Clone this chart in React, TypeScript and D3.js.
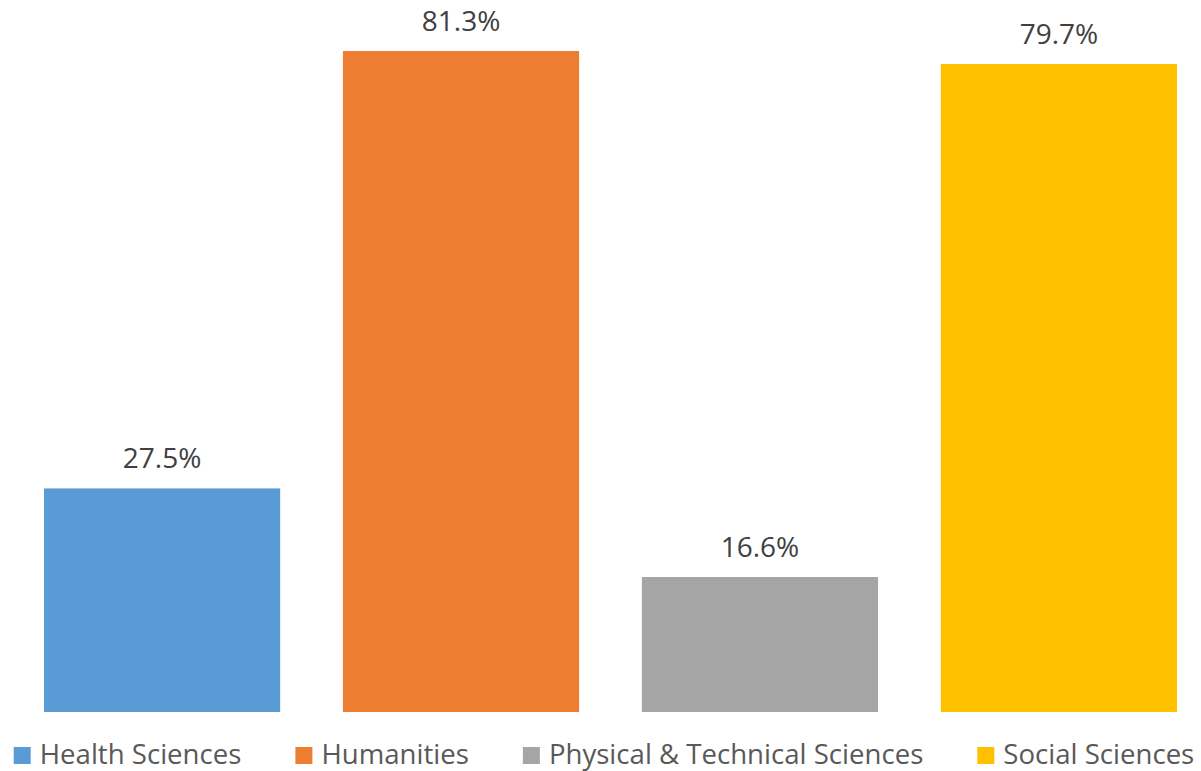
import React, { useEffect, useRef } from "react";
import * as d3 from "d3";

const categories = ["Health Sciences", "Humanities", "Physical & Technical Sciences", "Social Sciences"];
const values = [27.5, 81.3, 16.6, 79.7];
const colors = ["#5B9BD5", "#ED7D31", "#A5A5A5", "#FFC000"];

const W = 1201;
const H = 771;
const FONT = "'Open Sans', 'Segoe UI', sans-serif";

export default function App() {
  const ref = useRef<SVGSVGElement>(null);

  useEffect(() => {
    const svg = d3.select(ref.current);
    svg.selectAll("*").remove();

    const x = d3.scaleBand<string>().domain(categories).range([12.6, 1208.4]).paddingInner(0.21).paddingOuter(0.105);
    const y = d3.scaleLinear().domain([0, 100]).range([712, 712 - 813]);

    const g = svg.append("g");
    g.selectAll("rect.bar")
      .data(categories)
      .join("rect")
      .attr("class", "bar")
      .attr("x", (d) => x(d)!)
      .attr("width", x.bandwidth())
      .attr("y", (_, i) => y(values[i]))
      .attr("height", (_, i) => y(0) - y(values[i]))
      .attr("fill", (_, i) => colors[i]);

    g.selectAll("text.lbl")
      .data(categories)
      .join("text")
      .attr("class", "lbl")
      .attr("x", (d) => x(d)! + x.bandwidth() / 2)
      .attr("y", (_, i) => y(values[i]) - 20)
      .attr("text-anchor", "middle")
      .attr("font-family", FONT)
      .attr("font-size", 28)
      .attr("fill", "#404040")
      .text((_, i) => values[i].toFixed(1) + "%");

    // legend
    const lg = svg.append("g");
    const items = lg
      .selectAll("g.item")
      .data(categories)
      .join("g")
      .attr("class", "item");
    items
      .append("rect")
      .attr("width", 17)
      .attr("height", 17)
      .attr("y", 747)
      .attr("fill", (_, i) => colors[i]);
    const texts = items
      .append("text")
      .attr("x", 26)
      .attr("y", 764)
      .attr("font-family", FONT)
      .attr("font-size", 27.6)
      .attr("fill", "#595959")
      .text((d) => d);

    const widths: number[] = [];
    texts.each(function () {
      widths.push((this as SVGTextElement).getComputedTextLength());
    });
    const gap = 54;
    const total = widths.reduce((s, w) => s + 26 + w, 0) + gap * (widths.length - 1);
    let cx = 604 - total / 2;
    items.attr("transform", (_, i) => {
      const t = `translate(${cx},0)`;
      cx += 26 + widths[i] + gap;
      return t;
    });
  }, []);

  return <svg ref={ref} width={W} height={H} style={{ display: "block", position: "absolute", left: 0, top: 0 }} />;
}
